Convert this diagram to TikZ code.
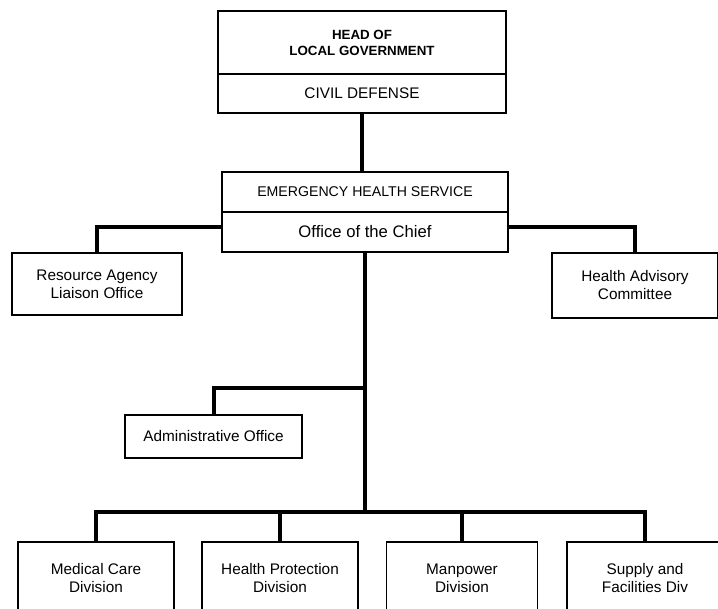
\documentclass[tikz,border=0pt]{standalone}
\usepackage{fontspec}
\setmainfont{Liberation Sans}
\usetikzlibrary{positioning}

\begin{document}
\begin{tikzpicture}[x=0.75pt, y=-0.75pt,
    box/.style={draw, line width=1.1pt, inner sep=2pt, align=center,
      font=\fontsize{11.5}{13.5}\selectfont},
    link/.style={line width=3pt}]
    \useasboundingbox (0, 0) rectangle (718, 609);
    \clip (0, 0) rectangle (718, 609);

    \node[box, minimum width=216pt, minimum height=47.25pt, font=\fontsize{10}{12}\selectfont\bfseries] (head) at (362, 42.5) {HEAD OF\\LOCAL GOVERNMENT};
    \node[box, minimum width=216pt, minimum height=29.25pt] (civil) at (362, 93.5) {CIVIL DEFENSE};

    \node[box, minimum width=214.5pt, minimum height=30pt, font=\fontsize{10.6}{12}\selectfont] (ehs) at (365, 192) {EMERGENCY HEALTH SERVICE};
    \node[box, minimum width=214.5pt, minimum height=30pt, font=\fontsize{12.5}{14}\selectfont] (chief) at (365, 232) {Office of the Chief};

    \node[box, minimum width=127.5pt, minimum height=46.5pt] (liaison) at (97, 284) {Resource Agency\\Liaison Office};
    \node[box, minimum width=124.5pt, minimum height=48.75pt] (advisory) at (635, 285.5) {Health Advisory\\Committee};

    \node[box, minimum width=132.75pt, minimum height=32.25pt] (admin) at (213.5, 436.5) {Administrative Office};

    \node[box, minimum width=117pt, minimum height=54.75pt] (medical) at (96, 578.5) {Medical Care\\Division};
    \node[box, minimum width=117pt, minimum height=54.75pt] (protection) at (280, 578.5) {Health Protection\\Division};
    \node[box, minimum width=113.25pt, minimum height=54.75pt] (manpower) at (462, 578.5) {Manpower\\Division};
    \node[box, minimum width=117pt, minimum height=54.75pt] (supply) at (645, 578.5) {Supply and\\Facilities Div};

    \coordinate (adminjoin) at (365, 388);
    \coordinate (divjoin) at (365, 512);

    \draw[link] (civil.south) -- (civil.south |- ehs.north);
    \draw[link] ([yshift=3.75pt]chief.west) -| (liaison.north);
    \draw[link] ([yshift=3.75pt]chief.east) -| (advisory.north);
    \draw[link] (chief.south) -- (divjoin);
    \draw[link] (adminjoin) -| (admin.north);
    \draw[link] (divjoin) -| (medical.north);
    \draw[link] (divjoin) -| (protection.north);
    \draw[link] (divjoin) -| (manpower.north);
    \draw[link] (divjoin) -| (supply.north);
  \end{tikzpicture}
\end{document}
